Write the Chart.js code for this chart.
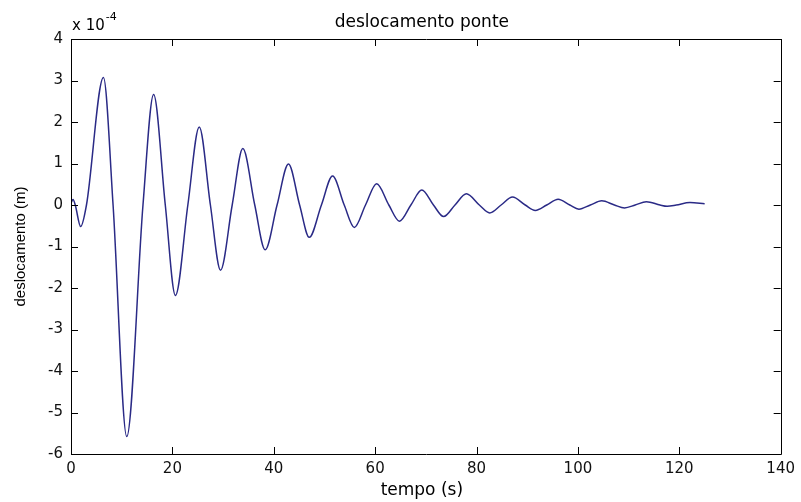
<!DOCTYPE html>
<html>
<head>
<meta charset="utf-8">
<script src="https://cdn.jsdelivr.net/npm/chart.js@4.4.0/dist/chart.umd.min.js"></script>
<style>
html, body { margin: 0; padding: 0; background: #fff; }
</style>
</head>
<body>
<canvas id="plot" width="801" height="502"></canvas>
<script>
// tempo (s) and deslocamento in units of 1e-4 m
var tempo = [0, 0.4, 0.84, 1.9, 3.05, 6.4, 8.3, 11.0, 14.2, 16.3, 18.6, 20.6, 23.05, 25.3, 27.5, 29.5,
    31.8, 33.9, 36.25, 38.3, 40.65, 42.9, 45.1, 47.0, 49.4, 51.6, 53.9, 55.9, 58.1, 60.3, 62.7, 64.8,
    67.05, 69.2, 71.5, 73.5, 75.75, 78.0, 80.55, 82.6, 84.85, 87.1, 89.6, 91.6, 93.85, 96.1, 98.4,
    100.2, 102.45, 104.7, 107.2, 109.2, 111.3, 113.5, 116.2, 117.6, 119.4, 122.1, 125.0];
var desloc = [0.05, 0.13, 0, -0.52, 0, 3.07, 0, -5.58, 0, 2.66, 0, -2.18, 0, 1.88, 0, -1.57,
    0, 1.36, 0, -1.08, 0, 0.99, 0, -0.78, 0, 0.70, 0, -0.54, 0, 0.51, 0, -0.39,
    0, 0.36, 0, -0.28, 0, 0.27, 0, -0.19, 0, 0.19, 0, -0.13, 0, 0.14, 0,
    -0.10, 0, 0.10, 0, -0.07, 0, 0.08, 0, -0.03, 0, 0.06, 0.03];

var xRange = [0, 140];
var xStep = 20;
var yRange = [-6, 4];
var yStep = 1;

var titleText = 'deslocamento ponte';
var xLabel = 'tempo (s)';
var yLabel = 'deslocamento (m)';
var expBase = 'x 10';
var expPower = '-4';

var points = tempo.map(function (t, i) {
    return { x: t, y: desloc[i] };
});

// matlab style box with ticks pointing inwards on all four sides
var boxTicks = {
    id: 'boxTicks',
    afterDatasetsDraw: function (chart) {
        var ctx = chart.ctx;
        var a = chart.chartArea;
        var x = chart.scales.x, y = chart.scales.y;
        var len = 7;
        ctx.save();
        ctx.strokeStyle = '#000';
        ctx.lineWidth = 1;
        ctx.beginPath();
        ctx.rect(Math.round(a.left) + 0.5, Math.round(a.top) + 0.5,
            Math.round(a.right - a.left), Math.round(a.bottom - a.top));
        x.ticks.forEach(function (t) {
            var px = Math.round(x.getPixelForValue(t.value)) + 0.5;
            ctx.moveTo(px, a.bottom); ctx.lineTo(px, a.bottom - len);
            ctx.moveTo(px, a.top); ctx.lineTo(px, a.top + len);
        });
        y.ticks.forEach(function (t) {
            var py = Math.round(y.getPixelForValue(t.value)) + 0.5;
            ctx.moveTo(a.left, py); ctx.lineTo(a.left + len, py);
            ctx.moveTo(a.right, py); ctx.lineTo(a.right - len, py);
        });
        ctx.stroke();
        ctx.restore();
    }
};

var labels = {
    id: 'labels',
    afterDraw: function (chart) {
        var ctx = chart.ctx;
        var a = chart.chartArea;
        var cx = (a.left + a.right) / 2;
        ctx.save();
        ctx.fillStyle = '#000';
        ctx.textBaseline = 'alphabetic';

        ctx.textAlign = 'center';
        ctx.font = '17px "DejaVu Sans"';
        ctx.fillText(titleText, cx - 4, 27);
        ctx.fillText(xLabel, cx - 4, 495);

        ctx.save();
        ctx.translate(25, (a.top + a.bottom) / 2);
        ctx.rotate(-Math.PI / 2);
        ctx.font = '15px "Liberation Sans"';
        ctx.fillText(yLabel, 0, 0);
        ctx.restore();

        ctx.textAlign = 'left';
        ctx.font = '15px "DejaVu Sans"';
        ctx.fillText(expBase, a.left + 1, 30);
        var w = ctx.measureText(expBase).width;
        ctx.font = '11px "DejaVu Sans"';
        ctx.fillText(expPower, a.left + 2 + w, 20);
        ctx.restore();
    }
};

var ctx = document.getElementById('plot').getContext('2d');

var tickFont = { family: 'DejaVu Sans', size: 15 };

var myChart = new Chart(ctx, {
    type: 'line',
    data: {
        datasets: [{
            data: points,
            borderColor: '#2a2a86',
            borderWidth: 1.5,
            pointRadius: 0,
            fill: false,
            cubicInterpolationMode: 'monotone'
        }]
    },
    options: {
        responsive: false,
        animation: false,
        layout: { padding: { top: 39, right: 20, left: 0, bottom: 0 } },
        plugins: {
            legend: { display: false },
            tooltip: { enabled: false }
        },
        scales: {
            x: {
                type: 'linear',
                min: xRange[0],
                max: xRange[1],
                grid: { display: false, drawTicks: false },
                border: { display: false },
                ticks: { stepSize: xStep, color: '#111', font: tickFont, padding: 6, maxRotation: 0 },
                afterFit: function (scale) { scale.height = 48; }
            },
            y: {
                min: yRange[0],
                max: yRange[1],
                grid: { display: false, drawTicks: false },
                border: { display: false },
                ticks: { stepSize: yStep, color: '#111', font: tickFont, padding: 8 },
                afterFit: function (scale) { scale.width = 71; }
            }
        }
    },
    plugins: [boxTicks, labels]
});
</script>
</body>
</html>
